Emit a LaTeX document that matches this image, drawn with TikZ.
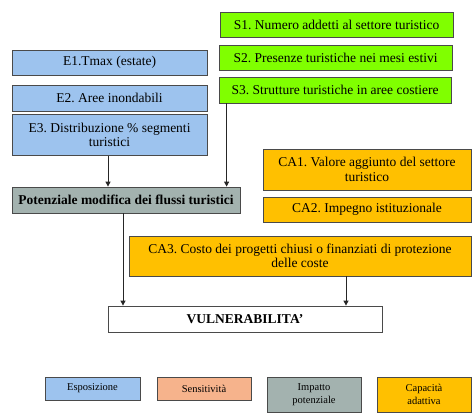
\documentclass[tikz,border=0pt]{standalone}
\usepackage{fontspec}
\setmainfont{Liberation Serif}
\usetikzlibrary{arrows.meta}
\frenchspacing

\definecolor{espblue}{HTML}{9DC3EE}
\definecolor{sensgreen}{HTML}{80FF00}
\definecolor{impgray}{HTML}{A3B2AF}
\definecolor{capamber}{HTML}{FFC000}
\definecolor{senssalmon}{HTML}{F6B38C}
\definecolor{edgegray}{HTML}{4A4A4A}

\begin{document}
\begin{tikzpicture}[x=1pt, y=1pt,
    box/.style = {draw = edgegray, line width = 0.8pt, inner sep = 1pt, align = center, font = \fontsize{13.5}{14.5}\selectfont},
    legend/.style = {box, font = \fontsize{10.5}{12.5}\selectfont},
    link/.style = {draw = black!85, line width = 0.9pt, -{Triangle[length = 5pt, width = 5pt]}}]
				\useasboundingbox (0,0) rectangle (474,-415);
				
				% esposizione
				\node[box, fill = espblue, minimum width = 195, minimum height = 25] at (109.5,-62.5) (esp1) {E1.Tmax (estate)};
				\node[box, fill = espblue, minimum width = 195, minimum height = 26] at (109.5,-98) (esp2) {E2. Aree inondabili};
				\node[box, fill = espblue, minimum width = 195, minimum height = 41] at (109.5,-135) (esp3) {E3. Distribuzione \% segmenti\\turistici};
				
				% sensitivita
				\node[box, fill = sensgreen, minimum width = 233, minimum height = 25] at (336.5,-24.5) (sens1) {S1. Numero addetti al settore turistico};
				\node[box, fill = sensgreen, minimum width = 233, minimum height = 25] at (335.5,-57.5) (sens2) {S2. Presenze turistiche nei mesi estivi};
				\node[box, fill = sensgreen, minimum width = 232, minimum height = 26] at (335,-90) (sens3) {S3. Strutture turistiche in aree costiere};
				
				% impatto
				\node[box, fill = impgray, minimum width = 228, minimum height = 26, font = \fontsize{13.5}{14.5}\selectfont\bfseries] at (126,-200) (impatto) {Potenziale modifica dei flussi turistici};
				
				% capacita adattiva
				\node[box, fill = capamber, minimum width = 208, minimum height = 41] at (367,-169.5) (cap1) {CA1. Valore aggiunto del settore\\turistico};
				\node[box, fill = capamber, minimum width = 208, minimum height = 25] at (367,-209.5) (cap2) {CA2. Impegno istituzionale};
				\node[box, fill = capamber, minimum width = 342, minimum height = 40] at (300,-256) (cap3) {CA3. Costo dei progetti chiusi o finanziati di protezione\\delle coste};
				
				\node[box, fill = white, minimum width = 274, minimum height = 26, font = \fontsize{13.5}{14.5}\selectfont\bfseries] at (245,-319) (vuln) {VULNERABILITA'};
				
				% legenda
				\node[legend, fill = espblue, minimum width = 95, minimum height = 23] at (92.5,-388.5) (legesp) {Esposizione};
				\node[legend, fill = senssalmon, minimum width = 94, minimum height = 23] at (204,-388.5) (legsens) {Sensitività};
				\node[legend, fill = impgray, minimum width = 94, minimum height = 35] at (314,-394.5) (legimp) {Impatto\\potenziale};
				\node[legend, fill = capamber, minimum width = 94, minimum height = 35] at (424,-394.5) (legcap) {Capacità\\adattiva};
				
				\coordinate (sensfoot) at ([xshift = 8]sens3.south west);
				\coordinate (impfoot) at ([xshift = -3]impatto.south);
				\coordinate (capfoot) at ([xshift = 46]cap3.south);
				
				\draw[link] ([xshift = -1.5]esp3.south) -- ([xshift = -1.5]esp3.south |- impatto.north);
				\draw[link] (sensfoot) -- (sensfoot |- impatto.north);
				\draw[link] (impfoot) -- (impfoot |- vuln.north);
				\draw[link] (capfoot) -- (capfoot |- vuln.north);
			\end{tikzpicture}
\end{document}
